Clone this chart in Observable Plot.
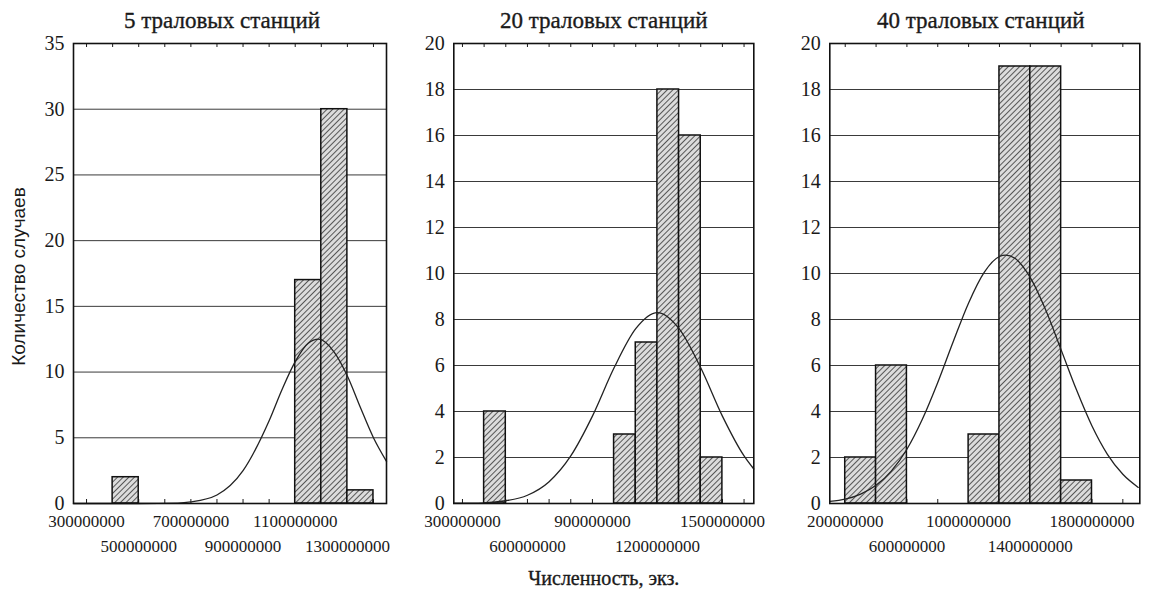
<!DOCTYPE html>
<html><head><meta charset="utf-8">
<script src="https://cdn.jsdelivr.net/npm/d3@7"></script>
<script src="https://cdn.jsdelivr.net/npm/@observablehq/plot@0.6"></script>
<style>
body{margin:0;background:#fff;width:1151px;height:594px;position:relative;overflow:hidden}
.panel{position:absolute;top:0}
.panel svg{overflow:visible}
</style></head><body>
<svg width="0" height="0" style="position:absolute"><defs>
<pattern id="hatch" patternUnits="userSpaceOnUse" width="4" height="4" patternTransform="rotate(45)">
<rect width="4" height="4" fill="#dcdcdc"/>
<line x1="0" y1="0" x2="0" y2="4" stroke="#2a2a2a" stroke-width="1.5"/>
</pattern></defs></svg>
<div id="p1" class="panel" style="left:0px"></div>
<div id="p2" class="panel" style="left:400px"></div>
<div id="p3" class="panel" style="left:780px"></div>
<script>
// ---- data ----
const titles = ["5 траловых станций", "20 траловых станций", "40 траловых станций"];
const yLabel = "Количество случаев";
const xLabel = "Численность, экз.";

// panel 1 (5 stations)
const binStart1 = [400e6, 1100e6, 1200e6, 1300e6];
const binEnd1   = [500e6, 1200e6, 1300e6, 1400e6];
const counts1   = [2, 17, 30, 1];
const curveX1 = [250e6, 500e6, 650e6, 700e6, 800e6, 900e6, 1000e6, 1050e6, 1100e6, 1150e6, 1190e6, 1250e6, 1300e6, 1350e6, 1400e6, 1450e6];
const curveY1 = [0, 0, 0.03, 0.12, 0.65, 2.5, 6.3, 8.7, 10.8, 12.2, 12.5, 11.5, 9.7, 7.3, 5.0, 3.2];
const yTicks1 = [0, 5, 10, 15, 20, 25, 30, 35];
const xLabelsA1 = [300000000, 700000000, 1100000000];
const xLabelsB1 = [500000000, 900000000, 1300000000];
const xMinor1 = [300e6,400e6,500e6,600e6,700e6,800e6,900e6,1000e6,1100e6,1200e6,1300e6,1400e6];

// panel 2 (20 stations)
const binStart2 = [400e6, 1000e6, 1100e6, 1200e6, 1300e6, 1400e6];
const binEnd2   = [500e6, 1100e6, 1200e6, 1300e6, 1400e6, 1500e6];
const counts2   = [4, 3, 7, 18, 16, 2];
const curveX2 = [260e6, 400e6, 500e6, 600e6, 700e6, 800e6, 900e6, 1000e6, 1100e6, 1200e6, 1300e6, 1400e6, 1500e6, 1600e6, 1645e6];
const curveY2 = [0.01, 0.03, 0.12, 0.36, 0.95, 2.07, 3.8, 5.9, 7.6, 8.3, 7.6, 5.9, 3.8, 2.07, 1.5];
const yTicks2 = [0, 2, 4, 6, 8, 10, 12, 14, 16, 18, 20];
const xLabelsA2 = [300000000, 900000000, 1500000000];
const xLabelsB2 = [600000000, 1200000000];
const xMinor2 = [300e6,400e6,500e6,600e6,700e6,800e6,900e6,1000e6,1100e6,1200e6,1300e6,1400e6,1500e6,1600e6];

// panel 3 (40 stations)
const binStart3 = [200e6, 400e6, 1000e6, 1200e6, 1400e6, 1600e6];
const binEnd3   = [400e6, 600e6, 1200e6, 1400e6, 1600e6, 1800e6];
const counts3   = [2, 6, 3, 19, 19, 1];
const curveX3 = [100e6, 200e6, 300e6, 400e6, 500e6, 600e6, 700e6, 800e6, 900e6, 1000e6, 1100e6, 1200e6, 1240e6, 1300e6, 1400e6, 1500e6, 1600e6, 1700e6, 1800e6, 1900e6, 2000e6, 2100e6];
const curveY3 = [0.09, 0.19, 0.41, 0.79, 1.42, 2.36, 3.66, 5.26, 7.03, 8.72, 10.04, 10.74, 10.8, 10.66, 9.82, 8.41, 6.68, 4.93, 3.37, 2.14, 1.27, 0.7];
const yTicks3 = [0, 2, 4, 6, 8, 10, 12, 14, 16, 18, 20];
const xLabelsA3 = [200000000, 1000000000, 1800000000];
const xLabelsB3 = [600000000, 1400000000];
const xMinor3 = [200e6,400e6,600e6,800e6,1000e6,1200e6,1400e6,1600e6,1800e6,2000e6];

// ---- layout ----
const H = 594, MT = 43, MB = 91, PH = H - MT - MB;
const serif = "'Liberation Serif', 'DejaVu Serif', serif";
const ink = "#1a1a1a";
const heavy = {stroke: ink, strokeWidth: 0.35};

const panels = [
  {el:"#p1", width:400, ml:73, mr:14, xDomain:[250e6,1450e6], yDomain:[0,35], yTicks:yTicks1,
   bs:binStart1, be:binEnd1, c:counts1, cx:curveX1, cy:curveY1, la:xLabelsA1, lb:xLabelsB1, minor:xMinor1,
   title:titles[0], tdx:-8, ylab:true},
  {el:"#p2", width:380, ml:53.3, mr:26.7, xDomain:[260e6,1645e6], yDomain:[0,20], yTicks:yTicks2,
   bs:binStart2, be:binEnd2, c:counts2, cx:curveX2, cy:curveY2, la:xLabelsA2, lb:xLabelsB2, minor:xMinor2,
   title:titles[1], tdx:0, xlab:true},
  {el:"#p3", width:371, ml:49.3, mr:11.7, xDomain:[100e6,2110e6], yDomain:[0,20], yTicks:yTicks3,
   bs:binStart3, be:binEnd3, c:counts3, cx:curveX3, cy:curveY3, la:xLabelsA3, lb:xLabelsB3, minor:xMinor3,
   title:titles[2], tdx:-4}
];

for (const p of panels) {
  const bars = p.c.map((v,i) => ({x1:p.bs[i], x2:p.be[i], y:v}));
  const curve = p.cx.map((x,i) => ({x, y:p.cy[i]}));
  const marks = [
    Plot.gridY(p.yTicks, {stroke:"#3a3a3a", strokeOpacity:1, strokeWidth:1}),
    Plot.ruleX(p.minor, {x:d=>d, insetTop:PH-4, stroke:ink, strokeWidth:1}),
    Plot.ruleX(p.minor, {x:d=>d, insetBottom:PH-4, stroke:ink, strokeWidth:1}),
    Plot.rectY(bars, {x1:"x1", x2:"x2", y:"y", fill:"url(#hatch)", stroke:"#111", strokeWidth:1.5}),
    Plot.line(curve, {x:"x", y:"y", curve:"monotone-x", stroke:"#222", strokeWidth:1.3}),
    Plot.frame({stroke:"#111", strokeWidth:1.6}),
    Plot.axisY(p.yTicks, {label:null, tickSize:0, tickPadding:9, fontSize:20, fontFamily:serif, fill:ink, ...heavy}),
    Plot.axisX(p.la, {label:null, tickSize:0, tickPadding:11, fontSize:17, fontFamily:serif, fill:ink, tickFormat:d=>String(d), ...heavy}),
    Plot.axisX(p.lb, {label:null, tickSize:0, tickPadding:36, fontSize:17, fontFamily:serif, fill:ink, tickFormat:d=>String(d), ...heavy}),
    Plot.text([p.title], {frameAnchor:"top", dy:-23, dx:p.tdx, fontSize:23, fontFamily:serif, fill:ink, lineAnchor:"middle", ...heavy})
  ];
  if (p.ylab) marks.push(Plot.text([yLabel], {frameAnchor:"left", dx:-55, dy:3, rotate:-90, textAnchor:"middle", lineAnchor:"middle",
    fontSize:19, fontFamily:"'Liberation Sans Narrow', 'Liberation Sans', sans-serif", fill:ink}));
  if (p.xlab) marks.push(Plot.text([xLabel], {frameAnchor:"bottom", dy:75, textAnchor:"middle", lineAnchor:"middle",
    fontSize:20, fontFamily:serif, fill:ink, ...heavy}));
  const svg = Plot.plot({
    width:p.width, height:H, marginTop:MT, marginBottom:MB, marginLeft:p.ml, marginRight:p.mr,
    style:{background:"transparent", overflow:"visible"},
    x:{domain:p.xDomain, axis:null},
    y:{domain:p.yDomain, axis:null},
    marks
  });
  document.querySelector(p.el).appendChild(svg);
}
</script>
</body></html>
